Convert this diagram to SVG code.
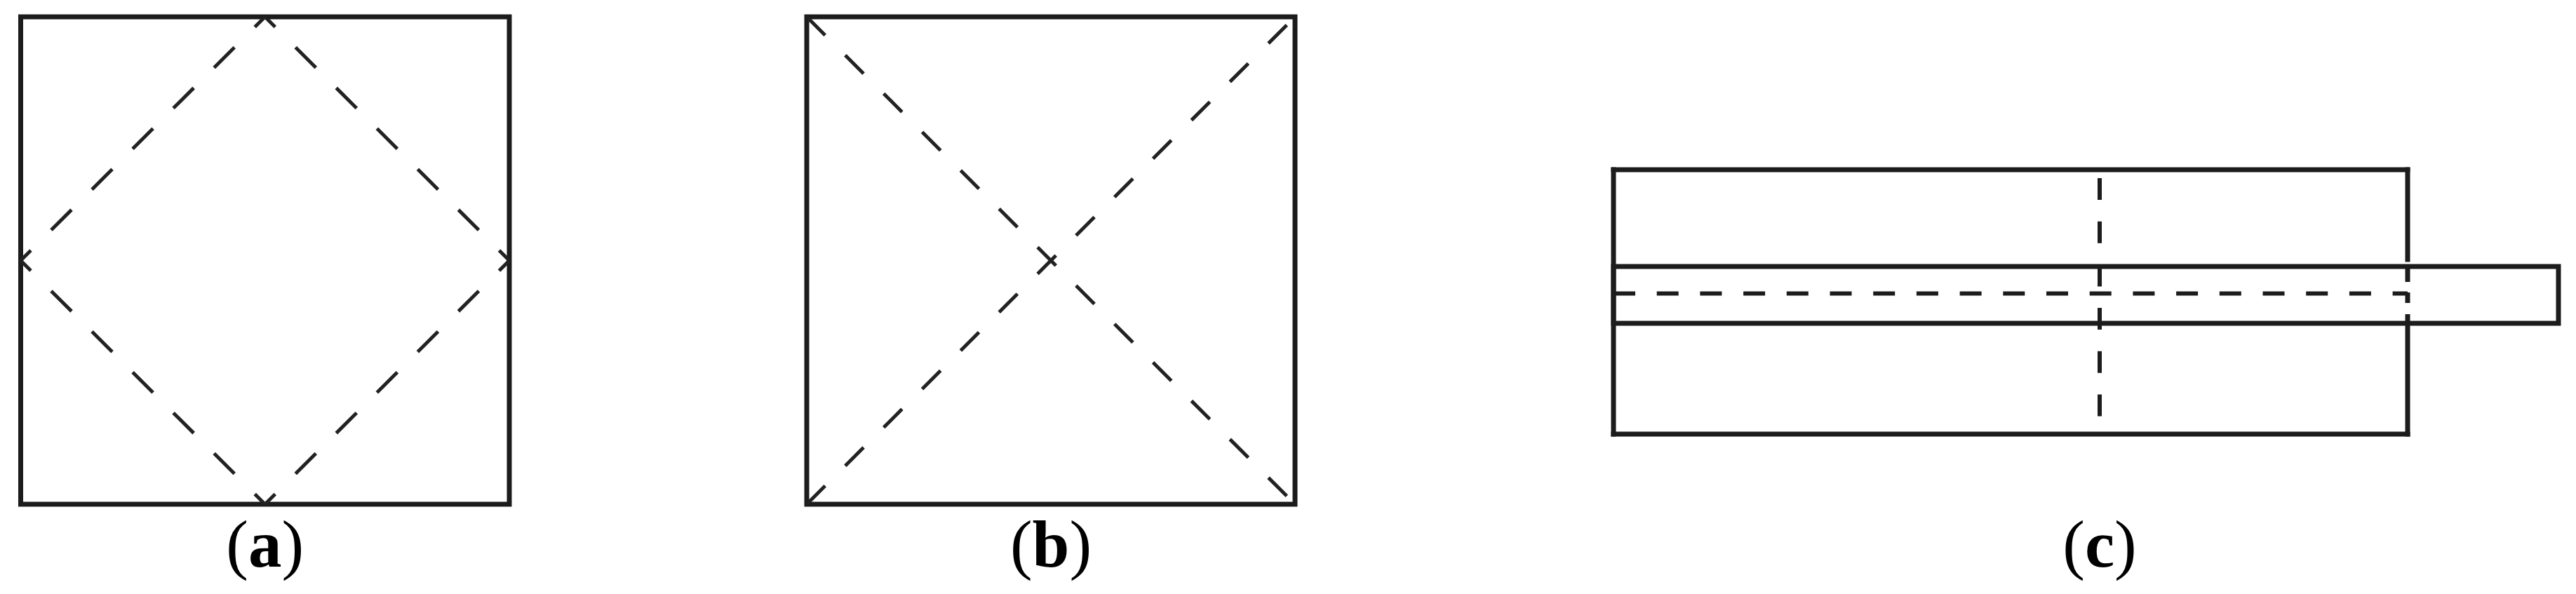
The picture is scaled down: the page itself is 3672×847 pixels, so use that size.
<svg xmlns="http://www.w3.org/2000/svg" width="3672" height="847" viewBox="0 0 3672 847">
<style>
.solid{fill:none;stroke:#1c1c1c;stroke-width:7;stroke-linecap:square}
.diag{fill:none;stroke:#222;stroke-width:5}
.dia{stroke-dasharray:41 41;stroke-dashoffset:20.5}
.x{stroke-dasharray:37 40.5}
.cd{fill:none;stroke:#1c1c1c;stroke-width:6;stroke-dasharray:31 30.7}
.lbl{font-family:"Liberation Serif","Times New Roman",serif;font-size:95px;fill:#000;text-anchor:middle}
</style>
<rect width="3672" height="847" fill="#fff"/>
<g id="panel-a">
  <rect class="solid" x="29.5" y="24" width="696.5" height="695"/>
  <g id="diamond">
    <line class="diag dia" x1="377.75" y1="24" x2="29.5" y2="371.5"/>
    <line class="diag dia" x1="377.75" y1="24" x2="726" y2="371.5"/>
    <line class="diag dia" x1="377.75" y1="719" x2="29.5" y2="371.5"/>
    <line class="diag dia" x1="377.75" y1="719" x2="726" y2="371.5"/>
  </g>
  <text class="lbl" x="377.75" y="808">(<tspan font-weight="bold">a</tspan>)</text>
</g>
<g id="panel-b">
  <rect class="solid" x="1150" y="24" width="696" height="695"/>
  <g id="diagonals">
    <line class="diag x" x1="1150" y1="24" x2="1846" y2="719"/>
    <line class="diag x" x1="1150" y1="719" x2="1846" y2="24"/>
  </g>
  <text class="lbl" x="1498" y="808">(<tspan font-weight="bold">b</tspan>)</text>
</g>
<g id="panel-c">
  <g id="outer-rect">
    <line class="solid" x1="2300" y1="242" x2="3432" y2="242"/>
    <line class="solid" x1="2300" y1="242" x2="2300" y2="619"/>
    <line class="solid" x1="2300" y1="619" x2="3432" y2="619"/>
    <line class="solid" x1="3432" y1="242" x2="3432" y2="370"/>
    <line class="solid" x1="3432" y1="461" x2="3432" y2="619"/>
    <line style="fill:none;stroke:#1c1c1c;stroke-width:7" x1="3432" y1="380" x2="3432" y2="402"/>
    <line style="fill:none;stroke:#1c1c1c;stroke-width:7" x1="3432" y1="417" x2="3432" y2="432"/>
    <line style="fill:none;stroke:#1c1c1c;stroke-width:7" x1="3432" y1="448" x2="3432" y2="461"/>
  </g>
  <rect id="strip" class="solid" x="2300" y="380" width="1347" height="81"/>
  <g id="centerlines">
    <line class="cd" x1="2300" y1="418.5" x2="3432" y2="418.5"/>
    <line class="cd" x1="2993" y1="254" x2="2993" y2="598"/>
  </g>
  <text class="lbl" x="2993" y="808">(<tspan font-weight="bold">c</tspan>)</text>
</g>
</svg>
